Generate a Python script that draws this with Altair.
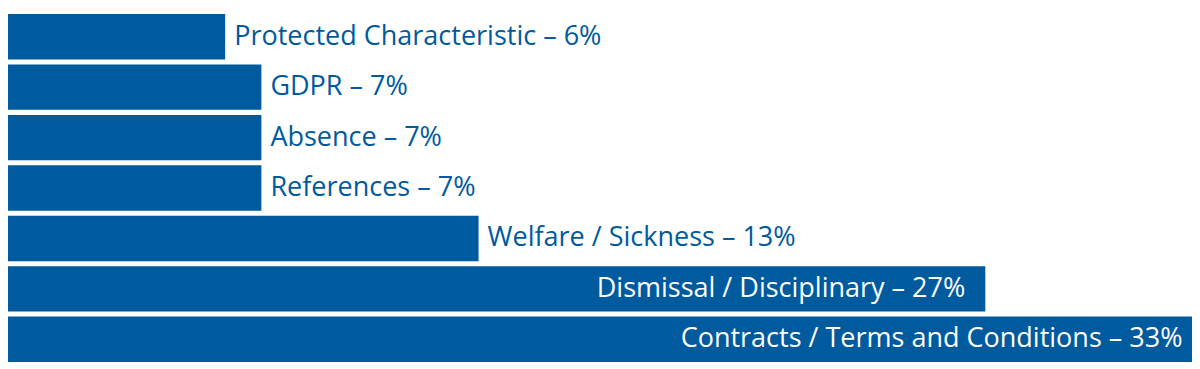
import altair as alt
import pandas as pd

categories = [
    "Protected Characteristic",
    "GDPR",
    "Absence",
    "References",
    "Welfare / Sickness",
    "Dismissal / Disciplinary",
    "Contracts / Terms and Conditions",
]
values = [6, 7, 7, 7, 13, 27, 33]

df = pd.DataFrame({"category": categories, "value": values})

BLUE = "#005a9e"
FONT = "Open Sans"

x = alt.X("value:Q", axis=None, scale=alt.Scale(domain=[0, 32.71], nice=False, zero=True))
y = alt.Y("category:N", axis=None, sort=categories,
          scale=alt.Scale(paddingInner=0.1, paddingOuter=0.06, align=1))

base = alt.Chart(df).transform_calculate(
    label="datum.category + ' \u2013 ' + datum.value + '%'"
)

bars = base.mark_bar(color=BLUE, cornerRadius=0).encode(x=x, y=y)

outside = base.transform_filter("datum.value < 20").mark_text(
    align="left", baseline="middle", dx=9, font=FONT, fontSize=27, color=BLUE
).encode(x=x, y=y, text="label:N")

inside = base.transform_filter("datum.value >= 20").mark_text(
    align="right", baseline="middle", dx=-20, font=FONT, fontSize=27, color="white"
).encode(x=x, y=y, text="label:N")

chart = (bars + outside + inside).properties(
    width=1184, height=354,
    padding=0,
    autosize=alt.AutoSizeParams(type="none"),
).configure_view(stroke=None)

chart.save("out.html", embed_options={"renderer": "svg", "actions": False})
